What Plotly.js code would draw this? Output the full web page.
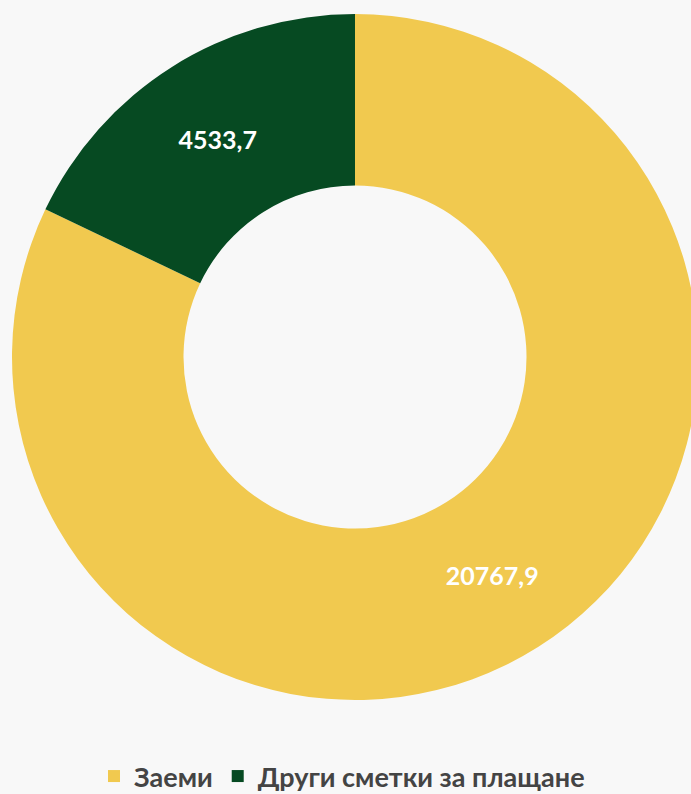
<!DOCTYPE html>
<html>
<head>
<meta charset="utf-8">
<script src="https://cdn.plot.ly/plotly-3.0.1.min.js"></script>
<style>
html,body{margin:0;padding:0;background:#f8f8f8;overflow:hidden;width:691px;height:794px;}
#chart{width:710px;height:801px;}
</style>
</head>
<body>
<div id="chart"></div>
<script>
const labels = ["Заеми", "Други сметки за плащане"];
const values = [20767.9, 4533.7];
const colors = ["#f1c94f", "#064a22"];
const valueText = values.map(v => v.toFixed(1).replace('.', ','));

const W = 710, H = 801;

const trace = {
  type: 'pie',
  labels: labels,
  values: values,
  text: valueText,
  textinfo: 'text',
  textposition: 'inside',
  insidetextorientation: 'horizontal',
  hole: 0.5,
  sort: false,
  direction: 'clockwise',
  rotation: 0,
  marker: {colors: colors, line: {width: 0}},
  textfont: {family: 'Lato, sans-serif', size: 25, color: '#ffffff', weight: 'bold'},
  domain: {x: [0, 1], y: [(H - 700) / H, (H - 14) / H]},
  hoverinfo: 'none'
};

const layout = {
  width: W,
  height: H,
  margin: {l: 0, r: 0, t: 0, b: 0},
  paper_bgcolor: '#f8f8f8',
  plot_bgcolor: '#f8f8f8',
  showlegend: true,
  legend: {
    orientation: 'h',
    x: 94 / W, xanchor: 'left',
    y: 0, yanchor: 'bottom',
    font: {family: 'Lato, sans-serif', size: 27, color: '#444444', weight: 'bold'},
    itemwidth: 30,
    bgcolor: 'rgba(0,0,0,0)'
  }
};

Plotly.newPlot('chart', [trace], layout, {displayModeBar: false, staticPlot: true});
</script>
</body>
</html>
